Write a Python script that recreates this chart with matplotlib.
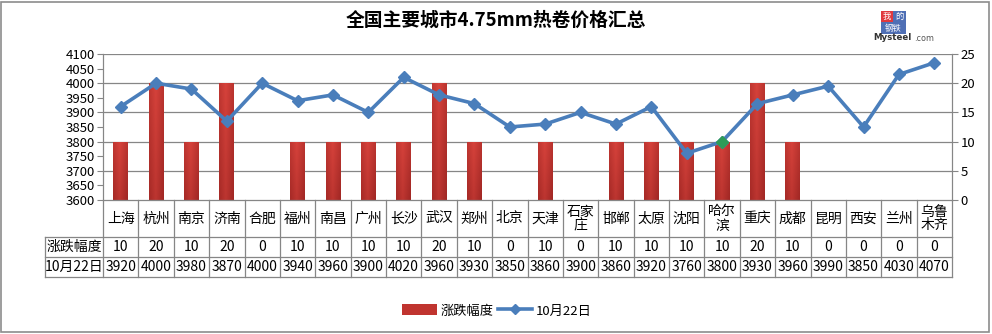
import numpy as np
import matplotlib
matplotlib.use("Agg")
import matplotlib.pyplot as plt
import matplotlib.transforms as mtransforms
from matplotlib.patches import Patch, Rectangle
from matplotlib.lines import Line2D
from matplotlib.colors import LinearSegmentedColormap

plt.rcParams['font.family'] = ['Noto Sans CJK SC', 'DejaVu Sans']

# ---- data ----
cities = ["上海", "杭州", "南京", "济南", "合肥", "福州", "南昌", "广州", "长沙", "武汉",
          "郑州", "北京", "天津", "石家\n庄", "邯郸", "太原", "沈阳", "哈尔\n滨", "重庆",
          "成都", "昆明", "西安", "兰州", "乌鲁\n木齐"]
change = [10, 20, 10, 20, 0, 10, 10, 10, 10, 20, 10, 0, 10, 0, 10, 10, 10, 10, 20, 10, 0, 0, 0, 0]
price = [3920, 4000, 3980, 3870, 4000, 3940, 3960, 3900, 4020, 3960, 3930, 3850, 3860, 3900,
         3860, 3920, 3760, 3800, 3930, 3960, 3990, 3850, 4030, 4070]
change_name = "涨跌幅度"
price_name = "10月22日"
title = "全国主要城市4.75mm热卷价格汇总"
highlight = 17  # 哈尔滨

W, H = 992, 334
fig = plt.figure(figsize=(W / 100, H / 100), dpi=100)

def fx(px):
    return px / W

def fy(py):
    return 1 - py / H

x0, x1, ytop, ybot = 103, 952, 54, 200
ax = fig.add_axes([fx(x0), fy(ybot), fx(x1) - fx(x0), fy(ytop) - fy(ybot)])
axr = ax.twinx()
ax.set_zorder(2)
axr.set_zorder(1)
ax.patch.set_visible(False)

n = len(cities)
xs = np.arange(n)
grid_c = "#868686"

# bars on the right-hand axis
axr.set_ylim(0, 25)
axr.set_xlim(-0.5, n - 0.5)
for v in range(5, 30, 5):
    axr.axhline(v, color=grid_c, lw=0.9, zorder=0)

bar_cmap = LinearSegmentedColormap.from_list("redbar", ["#A02724", "#D6423B"])
bars = axr.bar(xs, change, width=0.42, color="#C0342F", zorder=2, linewidth=0)
gy, gx = np.mgrid[0:1:64j, 0:1:32j]
grad = 0.5 * (1 - np.abs(gx - 0.45) * 2) + 0.5 * gy
for b in bars:
    if b.get_height() <= 0:
        continue
    bx, bw, bh = b.get_x(), b.get_width(), b.get_height()
    im = axr.imshow(grad, extent=[bx, bx + bw, 0, bh], origin="lower", aspect="auto",
                    cmap=bar_cmap, zorder=3)
    im.set_clip_path(b)
axr.set_xlim(-0.5, n - 0.5)
axr.set_ylim(0, 25)
axr.set_yticks(range(0, 30, 5))

# price line on the left-hand axis
line_c = "#4A7EBB"
ax.plot(xs, price, color=line_c, lw=2.6, marker="D", ms=6.5, zorder=5)
ax.plot(xs[highlight], price[highlight], marker="D", ms=6.5, color="#2E9B58", zorder=6)
ax.set_ylim(3600, 4100)
ax.set_yticks(range(3600, 4101, 50))
ax.set_xlim(-0.5, n - 0.5)
ax.set_xticks([])

for a in (ax, axr):
    for s in ("top", "bottom"):
        a.spines[s].set_visible(False)
    a.spines["left"].set_color(grid_c)
    a.spines["right"].set_color(grid_c)
    a.tick_params(axis="y", colors="black", labelsize=9.5, length=4, width=0.8,
                  color=grid_c, pad=2)
    a.tick_params(axis="x", length=0)
axr.set_xticks([])

# data table under the plot
tb = mtransforms.blended_transform_factory(ax.transData, ax.transAxes)
ah = ybot - ytop
def ya(py):
    return -(py - ybot) / ah

left_x = -0.5 - (x0 - 45) / ((x1 - x0) / n)
r0, r1, r2, r3 = ya(200), ya(237), ya(257), ya(277)
lk = dict(color=grid_c, lw=0.9, transform=tb, clip_on=False)
for xb in np.arange(-0.5, n, 1.0):
    ax.add_line(Line2D([xb, xb], [r0, r3], **lk))
ax.add_line(Line2D([-0.5, n - 0.5], [r0, r0], **lk))
ax.add_line(Line2D([left_x, n - 0.5], [r1, r1], **lk))
ax.add_line(Line2D([left_x, n - 0.5], [r2, r2], **lk))
ax.add_line(Line2D([left_x, n - 0.5], [r3, r3], **lk))
ax.add_line(Line2D([left_x, left_x], [r1, r3], **lk))

tk = dict(transform=tb, ha="center", va="center", fontsize=10, clip_on=False)
for i, c in enumerate(cities):
    ax.text(i, (r0 + r1) / 2, c, linespacing=1.0, **tk)
    ax.text(i, (r1 + r2) / 2, str(change[i]), **tk)
    ax.text(i, (r2 + r3) / 2, str(price[i]), **tk)
ax.text((left_x - 0.5) / 2, (r1 + r2) / 2, change_name, **tk)
ax.text((left_x - 0.5) / 2, (r2 + r3) / 2, price_name, **tk)

# title
fig.text(0.5, fy(20), title, ha="center", va="center", fontsize=13.5, fontweight="bold")

# logo
fig.patches.append(Rectangle((fx(881), fy(22)), fx(12), 11 / H, transform=fig.transFigure,
                             facecolor="#E0393E", edgecolor="none"))
fig.patches.append(Rectangle((fx(893), fy(22)), fx(13), 11 / H, transform=fig.transFigure,
                             facecolor="#4F6FB5", edgecolor="none"))
fig.patches.append(Rectangle((fx(881), fy(34)), fx(25), 12 / H, transform=fig.transFigure,
                             facecolor="#4F6FB5", edgecolor="none"))
fig.text(fx(887), fy(16.5), "我", color="white", fontsize=6, ha="center", va="center")
fig.text(fx(899.5), fy(16.5), "的", color="white", fontsize=6, ha="center", va="center")
fig.text(fx(893.5), fy(28), "钢铁", color="white", fontsize=6, ha="center", va="center")
fig.text(fx(873), fy(38), "Mysteel", color="#333333", fontsize=6.2, fontweight="bold",
         ha="left", va="center", family="DejaVu Sans")
fig.text(fx(914), fy(38.5), ".com", color="#555555", fontsize=5.8, ha="left", va="center",
         family="DejaVu Sans")

# legend
handles = [Patch(facecolor="#C0342F", edgecolor="none"),
           Line2D([0], [0], color=line_c, lw=2.6, marker="D", ms=5)]
fig.legend(handles, [change_name, price_name], loc="center", bbox_to_anchor=(fx(497), fy(311)),
           ncol=2, frameon=False, fontsize=9.5, handlelength=2.6, handleheight=0.9,
           columnspacing=0.3, handletextpad=0.3)

# outer frame
fig.patches.append(Rectangle((fx(1), fy(332)), fx(988), 330 / H, transform=fig.transFigure,
                             facecolor="none", edgecolor="#8C8C8C", lw=1.2))

fig.savefig("out.png", dpi=100)
